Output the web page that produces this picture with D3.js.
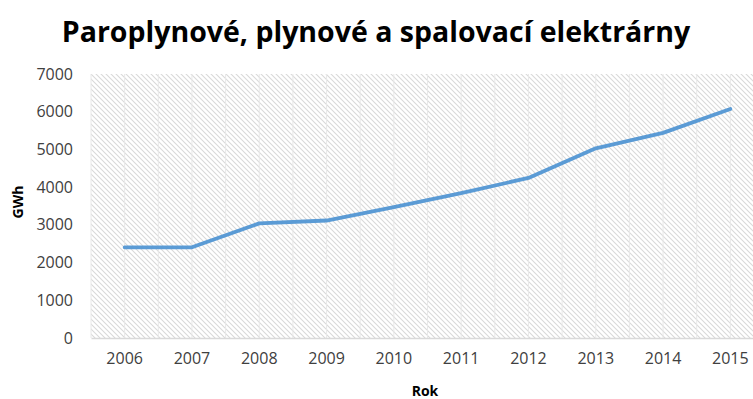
<!DOCTYPE html>
<html>
<head>
  <script src="https://d3js.org/d3.v7.min.js"></script>
  <style>
    body { margin: 0; background: #fff; font-family: "Open Sans", sans-serif; }
    .tick text { font-size: 16px; fill: #404040; font-family: "Open Sans", sans-serif; }
  </style>
</head>
<body>
  <div id="chart"></div>
  <script>
    // data
    const years = ["2006", "2007", "2008", "2009", "2010", "2011", "2012", "2013", "2014", "2015"];
    const gwh = [2405, 2405, 3040, 3115, 3470, 3840, 4245, 5030, 5440, 6070];
    const yTicks = [0, 1000, 2000, 3000, 4000, 5000, 6000, 7000];

    const W = 753, H = 399;
    const margin = { top: 74, right: -11, bottom: 61, left: 91 };
    const width = W - margin.left - margin.right;
    const height = H - margin.top - margin.bottom;

    const svg = d3.select("#chart").append("svg")
      .attr("width", W).attr("height", H);

    const defs = svg.append("defs");
    const pat = defs.append("pattern")
      .attr("id", "hatch")
      .attr("patternUnits", "userSpaceOnUse")
      .attr("width", 5).attr("height", 5);
    pat.append("path")
      .attr("d", "M-1,-1 L6,6 M-1,4 L1,6 M4,-1 L6,1")
      .attr("stroke", "#d9d9d9")
      .attr("stroke-width", 1.1);

    const g = svg.append("g").attr("transform", `translate(${margin.left},${margin.top})`);

    const x = d3.scaleBand().domain(years).range([0, width]);
    const y = d3.scaleLinear().domain([0, 7000]).range([height, 0]);

    // hatched plot background
    g.append("rect")
      .attr("width", width).attr("height", height)
      .attr("fill", "url(#hatch)");

    // vertical grid lines at band edges and centres
    const gridX = [];
    years.forEach(d => { gridX.push(x(d)); gridX.push(x(d) + x.bandwidth() / 2); });
    g.selectAll(".vgrid").data(gridX).enter().append("line")
      .attr("x1", d => d).attr("x2", d => d)
      .attr("y1", 0).attr("y2", height)
      .attr("stroke", "#e8e8e8").attr("stroke-width", 1);

    // y axis (labels only)
    const yAxis = g.append("g")
      .call(d3.axisLeft(y).tickValues(yTicks).tickFormat(d3.format("d")).tickSize(0).tickPadding(18));
    yAxis.select(".domain").remove();

    // x axis
    const xAxis = g.append("g")
      .attr("transform", `translate(0,${height})`)
      .call(d3.axisBottom(x).tickSize(0).tickPadding(15));
    xAxis.select(".domain").attr("stroke", "#d9d9d9").attr("stroke-width", 1.5);

    // line
    const line = d3.line()
      .x((d, i) => x(years[i]) + x.bandwidth() / 2)
      .y(d => y(d));

    g.append("path")
      .datum(gwh)
      .attr("fill", "none")
      .attr("stroke", "#5b9bd5")
      .attr("stroke-width", 3.8)
      .attr("stroke-linecap", "round")
      .attr("stroke-linejoin", "round")
      .attr("d", line);

    // title
    svg.append("text")
      .attr("x", 376).attr("y", 42)
      .attr("text-anchor", "middle")
      .attr("font-size", 28.5).attr("font-weight", "bold")
      .attr("fill", "#000")
      .text("Paroplynové, plynové a spalovací elektrárny");

    // axis titles
    svg.append("text")
      .attr("x", 425).attr("y", 396)
      .attr("text-anchor", "middle")
      .attr("font-size", 14).attr("font-weight", "bold")
      .attr("fill", "#000")
      .text("Rok");

    svg.append("text")
      .attr("transform", "translate(23,202) rotate(-90)")
      .attr("text-anchor", "middle")
      .attr("font-size", 14).attr("font-weight", "bold")
      .attr("fill", "#000")
      .text("GWh");
  </script>
</body>
</html>
